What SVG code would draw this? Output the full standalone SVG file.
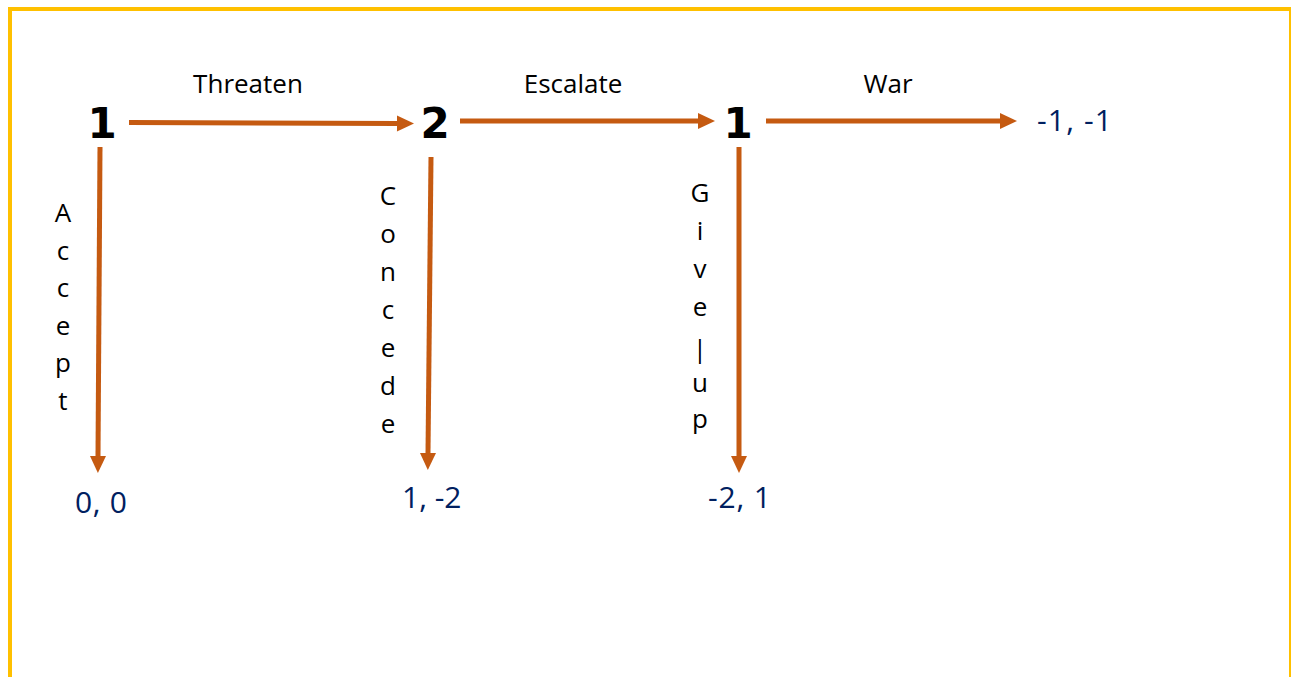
<svg xmlns="http://www.w3.org/2000/svg" width="1291" height="677" viewBox="0 0 1291 677">
  <style>
    .frame { fill: #ffffff; stroke: #FFC000; stroke-width: 4; }
    .edge { stroke: #C55A11; stroke-width: 5; fill: none; marker-end: url(#head); }
    .player { font-family: "DejaVu Sans", "Liberation Sans", sans-serif; font-weight: bold; font-size: 42px; fill: #000000; text-anchor: middle; }
    .label { font-family: "Open Sans", "Liberation Sans", sans-serif; font-size: 26px; fill: #000000; text-anchor: middle; }
    .payoff { font-family: "Open Sans", "Liberation Sans", sans-serif; font-size: 30px; fill: #002060; }
  </style>
  <defs>
    <marker id="head" markerUnits="userSpaceOnUse" markerWidth="18" markerHeight="17" refX="0" refY="8" orient="auto" overflow="visible">
      <path d="M0,0 L17,8 L0,16 Z" fill="#C55A11"/>
    </marker>
  </defs>

  <rect class="frame" x="10" y="9" width="1281" height="700"/>

  <!-- moves between decision points -->
  <g id="connectors">
    <line class="edge" x1="129" y1="122.5" x2="397" y2="123.5"/>
    <line class="edge" x1="460" y1="121" x2="698" y2="121"/>
    <line class="edge" x1="766" y1="121" x2="1000" y2="121"/>
    <line class="edge" x1="100" y1="147" x2="98" y2="456"/>
    <line class="edge" x1="431" y1="157" x2="428" y2="453"/>
    <line class="edge" x1="739" y1="147" x2="739" y2="456"/>
  </g>

  <!-- edge labels -->
  <g id="edge-labels">
    <text class="label" x="248" y="93">Threaten</text>
    <text class="label" x="573" y="93">Escalate</text>
    <text class="label" x="888" y="93">War</text>
    <g id="label-accept">
      <text class="label" x="63" y="222">A</text>
      <text class="label" x="63" y="260">c</text>
      <text class="label" x="63" y="297">c</text>
      <text class="label" x="63" y="335">e</text>
      <text class="label" x="63" y="372">p</text>
      <text class="label" x="63" y="410">t</text>
    </g>
    <g id="label-concede">
      <text class="label" x="388" y="205">C</text>
      <text class="label" x="388" y="243">o</text>
      <text class="label" x="388" y="281">n</text>
      <text class="label" x="388" y="319">c</text>
      <text class="label" x="388" y="357">e</text>
      <text class="label" x="388" y="395">d</text>
      <text class="label" x="388" y="433">e</text>
    </g>
    <g id="label-giveup">
      <text class="label" x="700" y="202">G</text>
      <text class="label" x="700" y="240">i</text>
      <text class="label" x="700" y="278">v</text>
      <text class="label" x="700" y="316">e</text>
      <text class="label" x="700" y="358">|</text>
      <text class="label" x="700" y="392">u</text>
      <text class="label" x="700" y="428">p</text>
    </g>
  </g>

  <!-- decision points -->
  <g id="node-p1-start"><text class="player" x="102" y="138">1</text></g>
  <g id="node-p2"><text class="player" x="435" y="138">2</text></g>
  <g id="node-p1-second"><text class="player" x="738" y="138">1</text></g>

  <!-- outcomes -->
  <g id="payoff-accept"><text class="payoff" x="75" y="513" textLength="52" lengthAdjust="spacing">0, 0</text></g>
  <g id="payoff-concede"><text class="payoff" x="402" y="508">1, -2</text></g>
  <g id="payoff-giveup"><text class="payoff" x="708" y="508" textLength="63" lengthAdjust="spacing">-2, 1</text></g>
  <g id="payoff-war"><text class="payoff" x="1037" y="131" textLength="75" lengthAdjust="spacing">-1, -1</text></g>
</svg>
